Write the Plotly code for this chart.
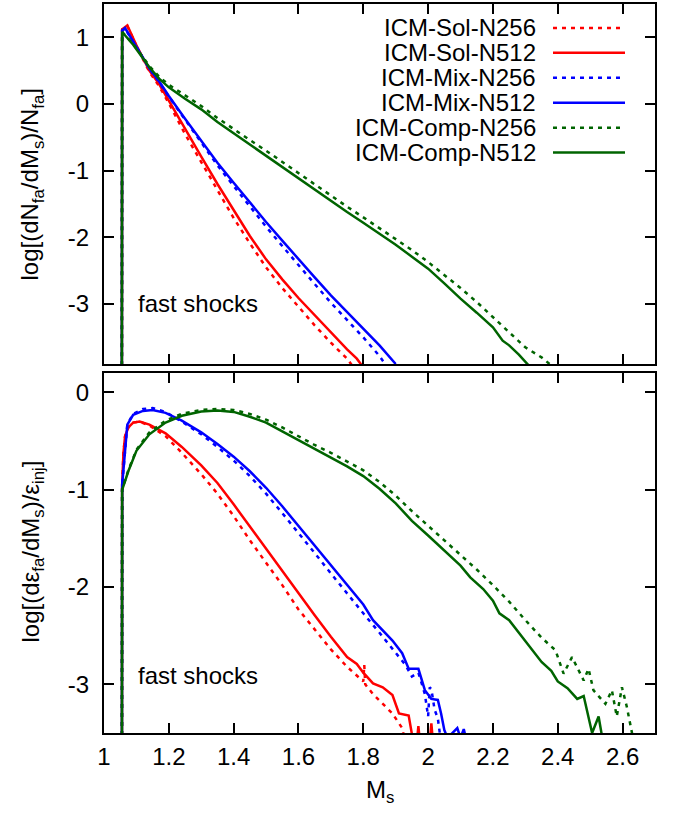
import plotly.graph_objects as go

# ---------------- data: top panel  log[(dN_fa/dM_s)/N_fa] ----------------
top_sol256_x = [1.055, 1.056, 1.072, 1.10, 1.14, 1.17, 1.20, 1.25, 1.30, 1.35, 1.40, 1.45, 1.50, 1.55, 1.60, 1.65, 1.70, 1.75, 1.77]
top_sol256_y = [-5, 1.12, 1.17, 0.87, 0.48, 0.27, 0.01, -0.45, -0.87, -1.29, -1.71, -2.09, -2.45, -2.76, -3.04, -3.32, -3.58, -3.82, -3.95]

top_sol512_x = [1.055, 1.056, 1.072, 1.10, 1.14, 1.17, 1.20, 1.25, 1.30, 1.35, 1.40, 1.45, 1.50, 1.55, 1.60, 1.65, 1.70, 1.73, 1.75, 1.78, 1.80]
top_sol512_y = [-5, 1.12, 1.18, 0.88, 0.50, 0.30, 0.05, -0.38, -0.79, -1.20, -1.60, -1.98, -2.33, -2.63, -2.91, -3.17, -3.42, -3.58, -3.68, -3.82, -3.95]

top_mix256_x = [1.055, 1.056, 1.065, 1.10, 1.14, 1.17, 1.20, 1.25, 1.30, 1.35, 1.40, 1.45, 1.50, 1.55, 1.60, 1.65, 1.70, 1.75, 1.80, 1.85, 1.87]
top_mix256_y = [-5, 1.10, 1.13, 0.86, 0.53, 0.33, 0.11, -0.24, -0.58, -0.92, -1.23, -1.54, -1.84, -2.13, -2.42, -2.70, -2.98, -3.24, -3.50, -3.78, -3.92]

top_mix512_x = [1.055, 1.056, 1.065, 1.10, 1.14, 1.17, 1.20, 1.25, 1.30, 1.35, 1.40, 1.45, 1.50, 1.55, 1.60, 1.65, 1.70, 1.75, 1.80, 1.85, 1.90]
top_mix512_y = [-5, 1.10, 1.14, 0.86, 0.53, 0.34, 0.12, -0.22, -0.55, -0.88, -1.18, -1.48, -1.77, -2.05, -2.33, -2.60, -2.87, -3.12, -3.37, -3.62, -3.90]

top_comp256_x = [1.055, 1.056, 1.09, 1.14, 1.17, 1.20, 1.25, 1.30, 1.35, 1.40, 1.45, 1.50, 1.55, 1.60, 1.65, 1.70, 1.75, 1.80, 1.85, 1.90, 1.95, 2.00, 2.05, 2.10, 2.15, 2.20, 2.25, 2.30, 2.35, 2.38]
top_comp256_y = [-5, 1.08, 0.90, 0.57, 0.41, 0.29, 0.13, -0.03, -0.21, -0.38, -0.54, -0.70, -0.87, -1.04, -1.21, -1.38, -1.54, -1.70, -1.86, -2.02, -2.19, -2.37, -2.56, -2.76, -2.97, -3.20, -3.43, -3.65, -3.80, -3.92]

top_comp512_x = [1.055, 1.056, 1.09, 1.14, 1.17, 1.20, 1.25, 1.30, 1.35, 1.40, 1.45, 1.50, 1.55, 1.60, 1.65, 1.70, 1.75, 1.80, 1.85, 1.90, 1.95, 2.00, 2.05, 2.10, 2.15, 2.20, 2.23, 2.25, 2.28, 2.31]
top_comp512_y = [-5, 1.08, 0.89, 0.55, 0.38, 0.25, 0.08, -0.08, -0.27, -0.44, -0.61, -0.77, -0.94, -1.11, -1.28, -1.45, -1.62, -1.78, -1.94, -2.11, -2.29, -2.47, -2.69, -2.92, -3.13, -3.35, -3.55, -3.62, -3.76, -3.92]

# ---------------- data: bottom panel  log[(d eps_fa/dM_s)/eps_inj] ----------------
bot_sol256_x = [1.055, 1.056, 1.06, 1.065, 1.075, 1.09, 1.11, 1.14, 1.19, 1.24, 1.30, 1.35, 1.40, 1.45, 1.50, 1.55, 1.60, 1.65, 1.70, 1.75, 1.80, 1.803, 1.806, 1.83, 1.86, 1.89, 1.92, 1.93]
bot_sol256_y = [-5, -0.95, -0.62, -0.45, -0.36, -0.31, -0.30, -0.34, -0.45, -0.62, -0.84, -1.04, -1.27, -1.52, -1.75, -1.98, -2.23, -2.43, -2.64, -2.82, -2.97, -2.80, -3.00, -3.10, -3.20, -3.30, -3.45, -3.60]

bot_sol512_x = [1.055, 1.056, 1.06, 1.065, 1.075, 1.09, 1.11, 1.14, 1.19, 1.24, 1.30, 1.35, 1.40, 1.45, 1.50, 1.55, 1.60, 1.65, 1.70, 1.75, 1.78, 1.80, 1.83, 1.86, 1.89, 1.91, 1.94, 1.952, 1.965, 1.97, 1.975, 2.005, 2.01, 2.015]
bot_sol512_y = [-5, -0.95, -0.62, -0.45, -0.36, -0.31, -0.30, -0.33, -0.42, -0.56, -0.75, -0.93, -1.15, -1.38, -1.61, -1.83, -2.06, -2.29, -2.51, -2.72, -2.79, -2.88, -2.99, -3.03, -3.11, -3.30, -3.32, -3.55, -3.60, -3.43, -3.60, -3.60, -3.40, -3.60]

bot_mix256_x = [1.055, 1.056, 1.065, 1.072, 1.09, 1.12, 1.15, 1.19, 1.24, 1.30, 1.35, 1.40, 1.45, 1.50, 1.55, 1.60, 1.65, 1.70, 1.75, 1.80, 1.85, 1.90, 1.93, 1.95, 1.97, 1.99, 2.00, 2.005, 2.01, 2.02, 2.03, 2.04]
bot_mix256_y = [-5, -0.95, -0.60, -0.33, -0.22, -0.17, -0.16, -0.20, -0.30, -0.43, -0.56, -0.70, -0.86, -1.04, -1.24, -1.44, -1.65, -1.86, -2.07, -2.27, -2.47, -2.67, -2.80, -2.92, -2.88, -3.10, -3.33, -3.03, -3.05, -3.26, -3.35, -3.60]

bot_mix512_x = [1.055, 1.056, 1.065, 1.072, 1.09, 1.12, 1.15, 1.19, 1.24, 1.30, 1.35, 1.40, 1.45, 1.50, 1.55, 1.60, 1.65, 1.70, 1.75, 1.80, 1.83, 1.86, 1.89, 1.92, 1.94, 1.97, 1.99, 2.01, 2.03, 2.04, 2.05, 2.06, 2.08, 2.09, 2.10, 2.11, 2.12]
bot_mix512_y = [-5, -0.95, -0.60, -0.33, -0.23, -0.19, -0.18, -0.21, -0.29, -0.41, -0.53, -0.66, -0.81, -0.98, -1.17, -1.37, -1.57, -1.77, -1.98, -2.18, -2.34, -2.45, -2.55, -2.68, -2.84, -2.84, -3.06, -3.15, -3.16, -3.30, -3.47, -3.55, -3.48, -3.45, -3.55, -3.46, -3.60]

bot_comp256_x = [1.055, 1.056, 1.075, 1.10, 1.14, 1.19, 1.24, 1.30, 1.35, 1.40, 1.45, 1.50, 1.55, 1.60, 1.65, 1.70, 1.75, 1.80, 1.85, 1.90, 1.95, 2.00, 2.05, 2.10, 2.15, 2.20, 2.25, 2.30, 2.35, 2.393, 2.418, 2.444, 2.48, 2.495, 2.51, 2.547, 2.567, 2.582, 2.598, 2.613, 2.635]
bot_comp256_y = [-5, -1.0, -0.80, -0.59, -0.41, -0.29, -0.22, -0.18, -0.17, -0.18, -0.22, -0.28, -0.36, -0.45, -0.54, -0.62, -0.71, -0.80, -0.92, -1.06, -1.22, -1.37, -1.52, -1.67, -1.82, -1.98, -2.15, -2.34, -2.52, -2.65, -2.89, -2.72, -2.96, -2.84, -3.06, -3.20, -3.06, -3.33, -3.03, -3.23, -3.60]

bot_comp512_x = [1.055, 1.056, 1.075, 1.10, 1.14, 1.19, 1.24, 1.30, 1.35, 1.40, 1.45, 1.50, 1.55, 1.60, 1.65, 1.70, 1.75, 1.80, 1.85, 1.90, 1.95, 2.00, 2.05, 2.10, 2.13, 2.17, 2.20, 2.22, 2.25, 2.30, 2.35, 2.38, 2.40, 2.43, 2.46, 2.48, 2.506, 2.526, 2.54]
bot_comp512_y = [-5, -1.0, -0.81, -0.60, -0.43, -0.31, -0.24, -0.195, -0.185, -0.20, -0.25, -0.31, -0.40, -0.49, -0.58, -0.67, -0.76, -0.86, -0.99, -1.14, -1.32, -1.47, -1.63, -1.78, -1.90, -2.02, -2.14, -2.27, -2.34, -2.55, -2.77, -2.86, -2.97, -3.04, -3.15, -3.12, -3.50, -3.33, -3.60]

series_names = ["ICM-Sol-N256", "ICM-Sol-N512", "ICM-Mix-N256", "ICM-Mix-N512", "ICM-Comp-N256", "ICM-Comp-N512"]
x_tick_vals = [1.0, 1.2, 1.4, 1.6, 1.8, 2.0, 2.2, 2.4, 2.6]
x_tick_text = ["1", "1.2", "1.4", "1.6", "1.8", "2", "2.2", "2.4", "2.6"]
top_y_vals = [-3, -2, -1, 0, 1]
top_y_text = ["-3", "-2", "-1", "0", "1"]
bot_y_vals = [-3, -2, -1, 0]
bot_y_text = ["-3", "-2", "-1", "0"]

# ---------------- styling ----------------
FONT = "Liberation Sans, Arial, Helvetica, sans-serif"
FS = 24
RED, BLUE, GREEN = "#ff0000", "#0000ff", "#006400"
DOT = "4px,5px"
styles = [
    dict(color=RED, dash=DOT), dict(color=RED, dash="solid"),
    dict(color=BLUE, dash=DOT), dict(color=BLUE, dash="solid"),
    dict(color=GREEN, dash=DOT), dict(color=GREEN, dash="solid"),
]
LW = 2.5

top_data = [(top_sol256_x, top_sol256_y), (top_sol512_x, top_sol512_y),
            (top_mix256_x, top_mix256_y), (top_mix512_x, top_mix512_y),
            (top_comp256_x, top_comp256_y), (top_comp512_x, top_comp512_y)]
bot_data = [(bot_sol256_x, bot_sol256_y), (bot_sol512_x, bot_sol512_y),
            (bot_mix256_x, bot_mix256_y), (bot_mix512_x, bot_mix512_y),
            (bot_comp256_x, bot_comp256_y), (bot_comp512_x, bot_comp512_y)]

fig = go.Figure()
for name, st, (xs, ys) in zip(series_names, styles, top_data):
    fig.add_trace(go.Scatter(x=xs, y=ys, mode="lines", name=name, showlegend=False,
                             line=dict(color=st["color"], dash=st["dash"], width=LW),
                             xaxis="x", yaxis="y"))
for name, st, (xs, ys) in zip(series_names, styles, bot_data):
    fig.add_trace(go.Scatter(x=xs, y=ys, mode="lines", name=name, showlegend=False,
                             line=dict(color=st["color"], dash=st["dash"], width=LW),
                             xaxis="x2", yaxis="y2"))

W, H = 676, 815
ML, MR, MT, MB = 104, 21, 2, 82
PW = W - ML - MR
PH = H - MT - MB


def py2paper(py):
    return (H - MB - py) / PH


def px2paper(px):
    return (px - ML) / PW


axis_common = dict(showline=True, linecolor="black", linewidth=2, mirror="ticks",
                   ticks="inside", ticklen=10, tickwidth=1.5, tickcolor="black",
                   showgrid=False, zeroline=False,
                   tickfont=dict(family=FONT, size=FS, color="black"))

top_dom = [py2paper(363), 1.0]
bot_dom = [0.0, py2paper(372)]

fig.update_layout(
    width=W, height=H,
    margin=dict(l=ML, r=MR, t=MT, b=MB, pad=0),
    paper_bgcolor="white", plot_bgcolor="white",
    font=dict(family=FONT, size=FS, color="black"),
    showlegend=False,
    xaxis=dict(axis_common, range=[1, 2.7], domain=[0, 1], anchor="y",
               tickmode="array", tickvals=x_tick_vals, ticktext=x_tick_text,
               showticklabels=False),
    yaxis=dict(axis_common, range=[-3.9, 1.5], domain=top_dom, anchor="x",
               tickmode="array", tickvals=top_y_vals, ticktext=top_y_text,
               ticklabelstandoff=8),
    xaxis2=dict(axis_common, range=[1, 2.7], domain=[0, 1], anchor="y2",
                tickmode="array", tickvals=x_tick_vals, ticktext=x_tick_text,
                ticklabelstandoff=1),
    yaxis2=dict(axis_common, range=[-3.5, 0.2], domain=bot_dom, anchor="x2",
                tickmode="array", tickvals=bot_y_vals, ticktext=bot_y_text,
                ticklabelstandoff=8),
)

annotations = []
# axis titles
annotations.append(dict(text="M<sub>s</sub>", xref="paper", yref="paper",
                        x=0.5, y=py2paper(792), xanchor="center", yanchor="middle",
                        showarrow=False, font=dict(family=FONT, size=FS)))
annotations.append(dict(text="log[(dN<sub>fa</sub>/dM<sub>s</sub>)/N<sub>fa</sub>]",
                        xref="paper", yref="paper", x=px2paper(32), y=py2paper(183),
                        xanchor="center", yanchor="middle", textangle=-90,
                        showarrow=False, font=dict(family=FONT, size=FS)))
annotations.append(dict(text="log[(dε<sub>fa</sub>/dM<sub>s</sub>)/ε<sub>inj</sub>]",
                        xref="paper", yref="paper", x=px2paper(32), y=py2paper(551),
                        xanchor="center", yanchor="middle", textangle=-90,
                        showarrow=False, font=dict(family=FONT, size=FS)))
# panel labels
annotations.append(dict(text="fast shocks", xref="x", yref="y", x=1.1, y=-2.99,
                        xanchor="left", yanchor="middle", showarrow=False,
                        font=dict(family=FONT, size=FS)))
annotations.append(dict(text="fast shocks", xref="x2", yref="y2", x=1.1, y=-2.91,
                        xanchor="left", yanchor="middle", showarrow=False,
                        font=dict(family=FONT, size=FS)))

# legend (text right-aligned, sample on the right, as in gnuplot)
shapes = []
legend_py = [26, 51, 76, 101, 126, 151]
for name, st, py in zip(series_names, styles, legend_py):
    annotations.append(dict(text=name, xref="paper", yref="paper",
                            x=px2paper(538), y=py2paper(py), xanchor="right", yanchor="middle",
                            showarrow=False, font=dict(family=FONT, size=FS)))
    shapes.append(dict(type="line", xref="paper", yref="paper",
                       x0=px2paper(553), x1=px2paper(625), y0=py2paper(py), y1=py2paper(py),
                       line=dict(color=st["color"], dash=st["dash"], width=LW)))

fig.update_layout(annotations=annotations, shapes=shapes)
fig.write_html("out.html")
